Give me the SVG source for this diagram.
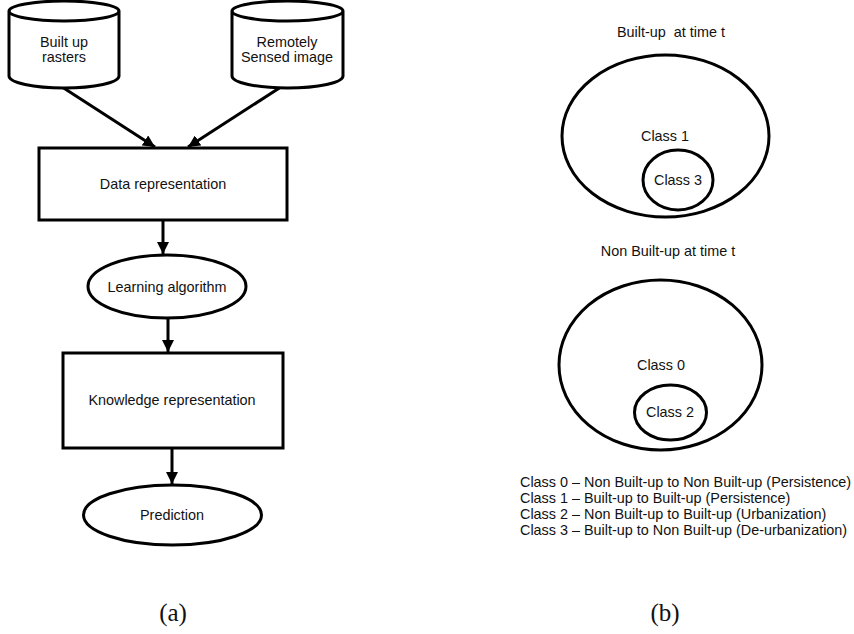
<svg xmlns="http://www.w3.org/2000/svg" width="854" height="634" viewBox="0 0 854 634">
<style>
.s{fill:#fff;stroke:#000;stroke-width:3}
.t{font-family:"Liberation Sans",Arial,sans-serif;font-size:14.4px;fill:#111;text-anchor:middle;dominant-baseline:central;white-space:pre}
.l{font-family:"Liberation Sans",Arial,sans-serif;font-size:14.4px;fill:#111}
.c{font-family:"Liberation Serif","Times New Roman",serif;font-size:25px;fill:#111;text-anchor:middle}
.e{stroke:#000;stroke-width:3;fill:none}
</style>
<defs>
<marker id="a" viewBox="0 0 10 10" refX="10" refY="5" markerWidth="4" markerHeight="4" orient="auto" markerUnits="strokeWidth">
<path d="M0,0 L10,5 L0,10 z" fill="#000"/>
</marker>
</defs>
<rect width="854" height="634" fill="#fff"/>
<g id="conn">
<line class="e" x1="59" y1="85" x2="155" y2="147" marker-end="url(#a)"/>
<line class="e" x1="284" y1="85" x2="188" y2="147" marker-end="url(#a)"/>
<line class="e" x1="163" y1="220" x2="163" y2="254" marker-end="url(#a)"/>
<line class="e" x1="168" y1="318" x2="168" y2="352" marker-end="url(#a)"/>
<line class="e" x1="172" y1="448" x2="172" y2="484" marker-end="url(#a)"/>
</g>
<g id="n-raster">
<path class="s" d="M9,11 L9,76 A55,12 0 0 0 119,76 L119,11 A55,10 0 0 0 9,11 A55,10 0 0 0 119,11"/>
<text class="t" x="64" y="42">Built up</text>
<text class="t" x="64" y="57">rasters</text>
</g>
<g id="n-rs">
<path class="s" d="M232,11 L232,76 A55.5,12 0 0 0 343,76 L343,11 A55.5,10 0 0 0 232,11 A55.5,10 0 0 0 343,11"/>
<text class="t" x="287" y="42">Remotely</text>
<text class="t" x="287" y="57">Sensed image</text>
</g>
<g id="n-data">
<rect class="s" x="39" y="148" width="248" height="72"/>
<text class="t" x="163" y="184">Data representation</text>
</g>
<g id="n-learn">
<ellipse class="s" cx="167" cy="286.5" rx="79" ry="31.5"/>
<text class="t" x="167" y="287">Learning algorithm</text>
</g>
<g id="n-know">
<rect class="s" x="63" y="353" width="220" height="95"/>
<text class="t" x="172" y="400">Knowledge representation</text>
</g>
<g id="n-pred">
<ellipse class="s" cx="172.5" cy="515" rx="89" ry="30"/>
<text class="t" x="172" y="515">Prediction</text>
</g>
<g id="n-built">
<text class="t" x="671" y="32" xml:space="preserve">Built-up  at time t</text>
<ellipse class="s" cx="665.5" cy="136" rx="103.5" ry="81"/>
<text class="t" x="665" y="136">Class 1</text>
<ellipse class="s" cx="678" cy="180" rx="35" ry="30"/>
<text class="t" x="678" y="180">Class 3</text>
</g>
<g id="n-nonbuilt">
<text class="t" x="668" y="251">Non Built-up at time t</text>
<ellipse class="s" cx="660.5" cy="365" rx="101.5" ry="85"/>
<text class="t" x="661" y="365">Class 0</text>
<ellipse class="s" cx="670.5" cy="412.5" rx="36" ry="27.5"/>
<text class="t" x="670" y="412">Class 2</text>
</g>
<g id="legend">
<text class="l" x="520" y="487">Class 0 – Non Built-up to Non Built-up (Persistence)</text>
<text class="l" x="520" y="503">Class 1 – Built-up to Built-up (Persistence)</text>
<text class="l" x="520" y="519">Class 2 – Non Built-up to Built-up (Urbanization)</text>
<text class="l" x="520" y="535">Class 3 – Built-up to Non Built-up (De-urbanization)</text>
</g>
<text class="c" x="173" y="621">(a)</text>
<text class="c" x="665" y="621">(b)</text>
</svg>
